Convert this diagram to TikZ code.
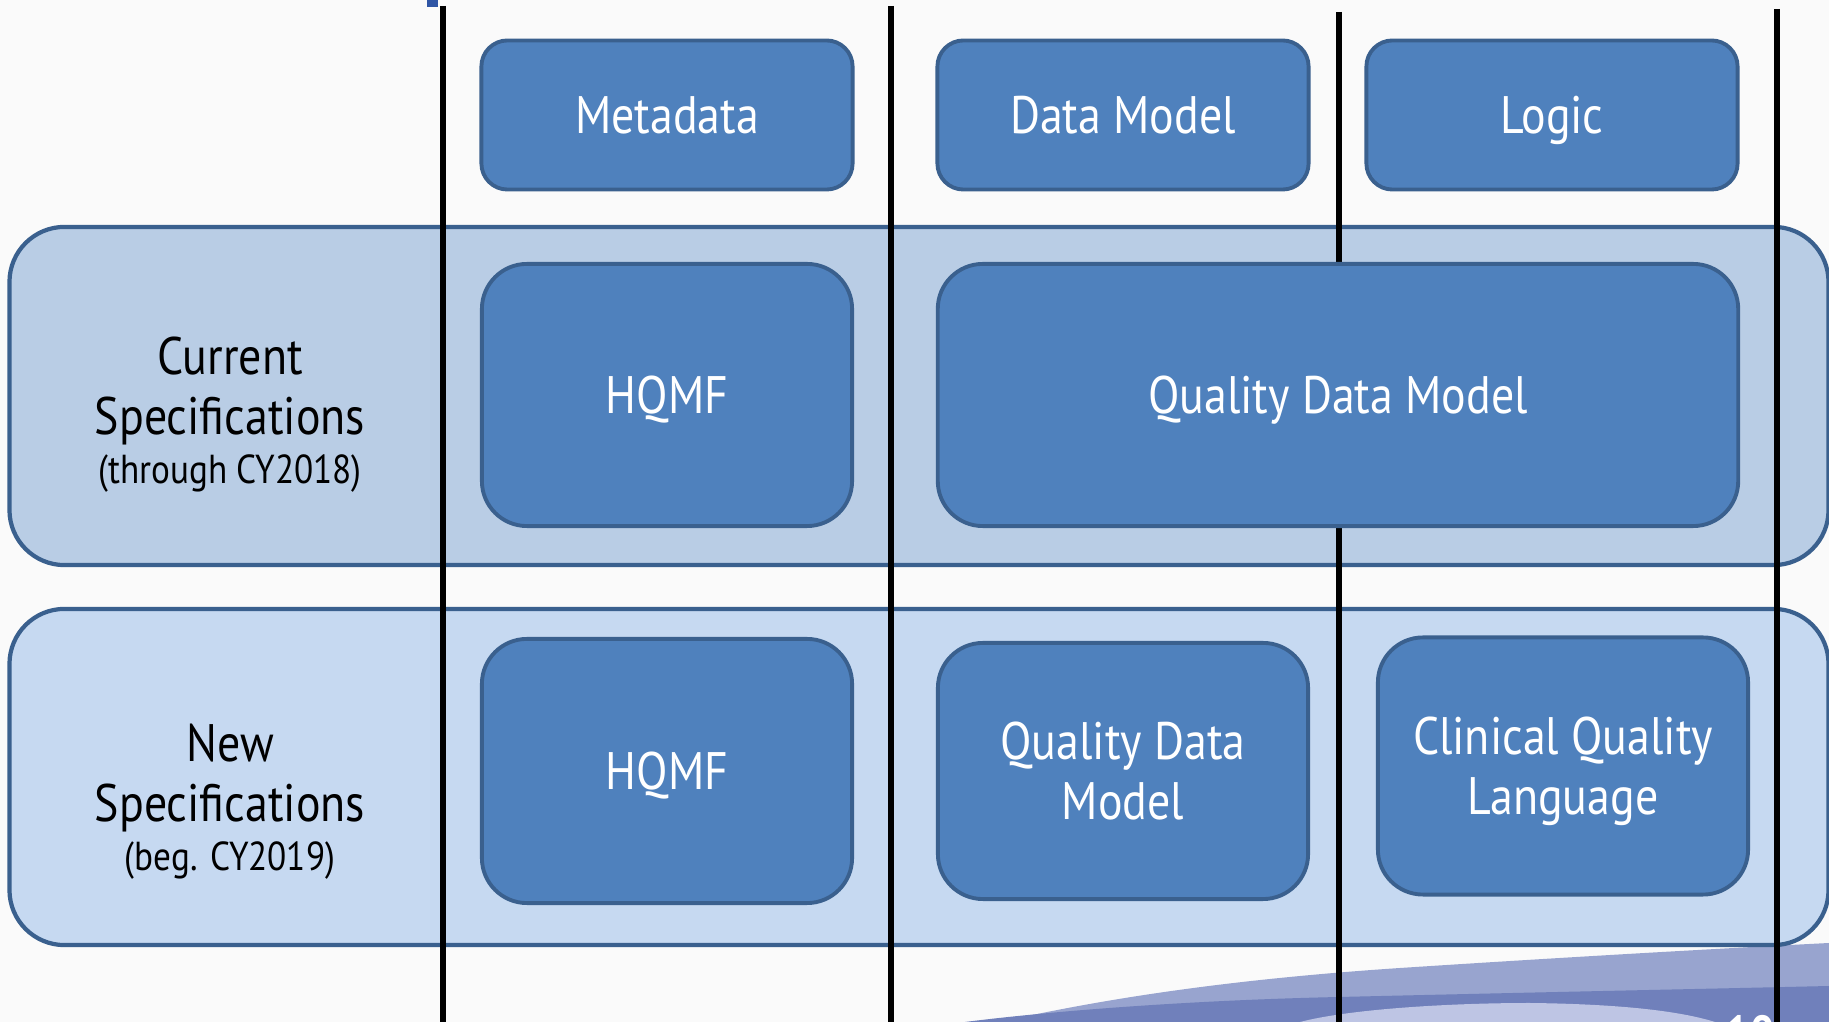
\documentclass[tikz,border=0pt]{standalone}
\usepackage{fontspec}
\setmainfont{PT Sans}[FakeStretch=0.87]
\usetikzlibrary{positioning}
\definecolor{bandtop}{RGB}{185,205,229}
\definecolor{bandlow}{RGB}{198,217,241}
\definecolor{boxblue}{RGB}{79,129,189}
\definecolor{edgeblue}{RGB}{58,96,142}
\definecolor{pagebg}{RGB}{250,250,250}
\definecolor{wavelight}{RGB}{152,164,207}
\definecolor{wavedark}{RGB}{112,128,187}
\definecolor{wavepale}{RGB}{190,197,228}
\definecolor{markblue}{RGB}{47,85,165}

\begin{document}
\begin{tikzpicture}[x=0.01cm,y=-0.01cm,
  rowband/.style={draw=edgeblue,line width=1.2pt,rounded corners=0.55cm,minimum width=18.18cm},
  colhead/.style={draw=edgeblue,line width=1.1pt,fill=boxblue,rounded corners=0.26cm,text=white,text depth=0pt,font=\fontsize{15}{17}\selectfont,minimum width=3.71cm,minimum height=1.49cm},
  specbox/.style={draw=edgeblue,line width=1.1pt,fill=boxblue,rounded corners=0.45cm,text=white,text depth=0pt,align=center,font=\fontsize{15}{17}\selectfont,minimum width=3.7cm},
  rowlabel/.style={align=center,font=\fontsize{15}{16}\selectfont},
  divider/.style={line width=1.5pt}]
% Page
\useasboundingbox (0,0) rectangle (1829,1022);
\clip (0,0) rectangle (1829,1022);
\fill[pagebg] (0,0) rectangle (1829,1022);

% Wave at the bottom
\fill[wavelight] (1000,1022) .. controls (1120,995) and (1250,978) .. (1400,968)
  .. controls (1600,955) and (1750,947) .. (1829,943) -- (1829,1022) -- cycle;
\fill[wavedark] (965,1022) .. controls (1060,1010) and (1200,1000) .. (1339,997)
  .. controls (1550,992) and (1700,989) .. (1829,986) -- (1829,1022) -- cycle;
\fill[wavepale] (1300,1022) .. controls (1350,1009) and (1450,1003) .. (1530,1003)
  .. controls (1620,1004) and (1680,1011) .. (1715,1022) -- cycle;
\node[text=white,font=\bfseries\fontsize{14}{14}\selectfont] (pagenum) at (1750,1033) {10};

% Rows
\node[rowband,fill=bandtop,minimum height=3.38cm] (curband) at (919,396) {};
\node[rowband,fill=bandlow,minimum height=3.36cm] (newband) at (919,777) {};

\node[rowlabel] (curlabel) at (230,415) {Current\\[1pt]Specifications\\[-2pt]{\fontsize{11.5}{13}\selectfont (through CY2018)}};
\node[rowlabel] (newlabel) at (230,802) {New\\[1pt]Specifications\\[-2pt]{\fontsize{11.5}{13}\selectfont (beg. CY2019)}};

% Column dividers
\fill[markblue] (427,0) rectangle (438,7);
\foreach \dx/\dy [count=\i] in {443/6, 891/6, 1339/12, 1777/9} {
  \coordinate (div\i top) at (\dx,\dy);
  \coordinate (div\i bot) at (\dx,1022);
  \draw[divider] (div\i top) -- (div\i bot);
}

% Column heads
\node[colhead] (meta) at (667,115) {Metadata};
\node[colhead] (datamodel) at (1123,115) {Data Model};
\node[colhead] (logic) at (1552,115) {Logic};

% Current specifications
\node[specbox,minimum height=2.62cm] (curhqmf) at (667,395) {HQMF};
\node[specbox,minimum width=8cm,minimum height=2.62cm] (curqdm) at (1338,395) {Quality Data Model};

% New specifications
\node[specbox,minimum height=2.64cm] (newhqmf) at (667,771) {HQMF};
\node[specbox,minimum height=2.56cm] (newqdm) at (1123,771) {Quality Data\\Model};
\node[specbox,minimum height=2.57cm] (newcql) at (1563,766) {Clinical Quality\\Language};
\end{tikzpicture}
\end{document}
